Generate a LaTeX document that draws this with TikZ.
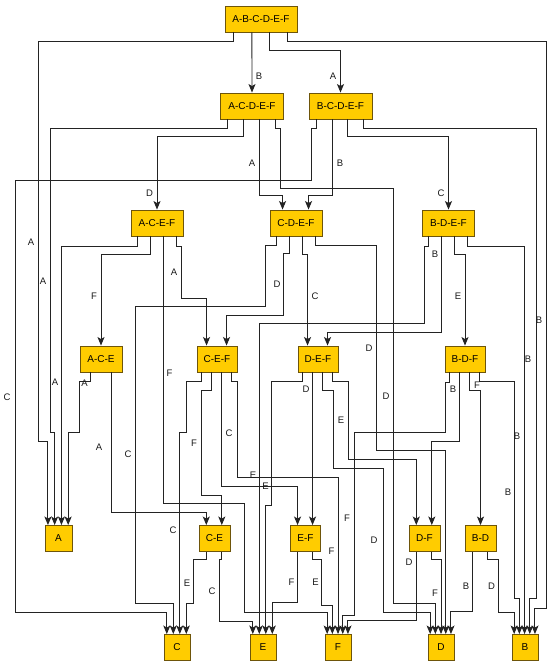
\documentclass[tikz,border=0pt]{standalone}
\usepackage{fontspec}
\setmainfont{Liberation Sans}
\usetikzlibrary{arrows.meta}
\definecolor{boxfill}{RGB}{255,204,0}
\definecolor{boxline}{RGB}{110,85,10}
\definecolor{edgecol}{RGB}{35,35,35}
\begin{document}
\begin{tikzpicture}[x=1pt,y=-1pt,
  bx/.style={draw=boxline,fill=boxfill,line width=0.9pt,minimum height=26pt,inner sep=0pt,font=\fontsize{10}{12}\selectfont},
  e/.style={draw=edgecol,line width=0.95pt,-{Stealth[length=8.5pt,width=7pt,inset=2pt]}},
  lb/.style={inner sep=0pt,font=\fontsize{9.5}{10}\selectfont,text=black!90}]
\fill[white] (0,0) rectangle (550,669);
\useasboundingbox (0,0) rectangle (550,669);
% nodes
\node[bx,minimum width=72pt] (abcdef) at (261,19) {A-B-C-D-E-F};
\node[bx,minimum width=63pt] (acdef) at (252,106) {A-C-D-E-F};
\node[bx,minimum width=63pt] (bcdef) at (340.5,106) {B-C-D-E-F};
\node[bx,minimum width=52pt] (acef) at (157,223) {A-C-E-F};
\node[bx,minimum width=52pt] (cdef) at (296,223) {C-D-E-F};
\node[bx,minimum width=52pt] (bdef) at (448.5,223) {B-D-E-F};
\node[bx,minimum width=42pt] (ace) at (101,359) {A-C-E};
\node[bx,minimum width=40pt] (cef) at (217,359) {C-E-F};
\node[bx,minimum width=40pt] (def) at (318,359) {D-E-F};
\node[bx,minimum width=40pt] (bdf) at (465,359) {B-D-F};
\node[bx,minimum width=27pt] (nA) at (58.5,538.5) {A};
\node[bx,minimum width=31pt] (ce) at (214.5,538.5) {C-E};
\node[bx,minimum width=30pt] (ef) at (305.5,538.5) {E-F};
\node[bx,minimum width=31pt] (df) at (424.5,538.5) {D-F};
\node[bx,minimum width=31pt] (bd) at (480.5,538.5) {B-D};
\node[bx,minimum width=26pt] (nC) at (177,647.5) {C};
\node[bx,minimum width=26pt] (nE) at (263,647.5) {E};
\node[bx,minimum width=26pt] (nF) at (338,647.5) {F};
\node[bx,minimum width=26pt] (nD) at (441,647.5) {D};
\node[bx,minimum width=26pt] (nB) at (525,647.5) {B};
% edges from A-B-C-D-E-F
\draw[e] ([xshift=9pt]abcdef.south west) |- (38,41) -- (38,441) -| ([xshift=3.4pt]nA.north west);
\draw[e] ([xshift=27.4pt]abcdef.south west) -- (acdef.north);
\draw[e] ([xshift=45pt]abcdef.south west) -- ++(0,18) -| (bcdef.north);
\draw[e] ([xshift=63pt]abcdef.south west) |- (546,41) -- (546,608) -| ([xshift=23.4pt]nB.north west);
% edges from A-C-D-E-F
\draw[e] ([xshift=7.9pt]acdef.south west) |- (50,128) -- (50,432) -| ([xshift=10.1pt]nA.north west);
\draw[e] ([xshift=23.6pt]acdef.south west) -- ++(0,17) -| (acef.north);
\draw[e] ([xshift=39.4pt]acdef.south west) -- ++(0,76) -| ([xshift=13pt]cdef.north west);
\draw[e] ([xshift=55.1pt]acdef.south west) -- ++(0,9) -| (280,188) -- (393,188) -- (393,603) -| ([xshift=7.8pt]nD.north west);
% edges from B-C-D-E-F
\draw[e] ([xshift=7.9pt]bcdef.south west) -- ++(0,9) -| (311,180) -- (15,180) -- (15,612) -| ([xshift=3.25pt]nC.north west);
\draw[e] ([xshift=23.6pt]bcdef.south west) -- ++(0,76) -| ([xshift=39pt]cdef.north west);
\draw[e] ([xshift=39.4pt]bcdef.south west) -- ++(0,17) -| (bdef.north);
\draw[e] ([xshift=55.1pt]bcdef.south west) -- ++(0,9) -| (536,598) -| ([xshift=18.2pt]nB.north west);
% edges from A-C-E-F
\draw[e] ([xshift=6.5pt]acef.south west) -- ++(0,10) -| ([xshift=16.9pt]nA.north west);
\draw[e] ([xshift=19.5pt]acef.south west) -- ++(0,18) -| (ace.north);
\draw[e] ([xshift=32.5pt]acef.south west) |- (244,503) -- (244,612) -| ([xshift=2.6pt]nF.north west);
\draw[e] ([xshift=45.5pt]acef.south west) -- ++(0,10) -| (181,298) -| ([xshift=10pt]cef.north west);
% edges from C-D-E-F
\draw[e] ([xshift=6.5pt]cdef.south west) -- ++(0,9) -| (265,306) -- (135,306) -- (135,603) -| ([xshift=9.75pt]nC.north west);
\draw[e] ([xshift=19.5pt]cdef.south west) -- ++(0,17) -| (283.3,315) -| ([xshift=30pt]cef.north west);
\draw[e] ([xshift=32.5pt]cdef.south west) -- ++(0,18) -| ([xshift=10pt]def.north west);
\draw[e] ([xshift=45.5pt]cdef.south west) -- ++(0,9) -| (376,450) -| ([xshift=18.2pt]nD.north west);
% edges from B-D-E-F
\draw[e] ([xshift=6.5pt]bdef.south west) -- ++(0,10) -| (424,323) -| ([xshift=9.75pt]nE.north west);
\draw[e] ([xshift=19.5pt]bdef.south west) -- ++(0,96) -| ([xshift=30pt]def.north west);
\draw[e] ([xshift=32.5pt]bdef.south west) -- ++(0,18) -| (bdf.north);
\draw[e] ([xshift=45.5pt]bdef.south west) -- ++(0,10) -| ([xshift=13pt]nB.north west);
% edges from A-C-E
\draw[e] ([xshift=10.5pt]ace.south west) -- ++(0,9) -| (79,432) -| ([xshift=23.6pt]nA.north west);
\draw[e] ([xshift=31.5pt]ace.south west) -- ++(0,140) -| ([xshift=7.75pt]ce.north west);
% edges from C-E-F
\draw[e] ([xshift=5pt]cef.south west) -- ++(0,9) -| (186,432) -| ([xshift=16.25pt]nC.north west);
\draw[e] ([xshift=15pt]cef.south west) -- ++(0,18) -| (201,495) -| ([xshift=23.25pt]ce.north west);
\draw[e] ([xshift=25pt]cef.south west) -- ++(0,114) -| ([xshift=7.5pt]ef.north west);
\draw[e] ([xshift=35pt]cef.south west) -- ++(0,9) -| (237,477) -| (nF.north);
% edges from D-E-F
\draw[e] ([xshift=5pt]def.south west) -- ++(0,9) -| (271,505) -| ([xshift=16.25pt]nE.north west);
\draw[e] ([xshift=15pt]def.south west) -- ([xshift=22.5pt]ef.north west);
\draw[e] ([xshift=25pt]def.south west) -- ++(0,18) -| (333,468) -| (383,612) -| ([xshift=2.6pt]nD.north west);
\draw[e] ([xshift=35pt]def.south west) -- ++(0,9) -| (348,459) -| ([xshift=7.75pt]df.north west);
% edges from B-D-F
\draw[e] ([xshift=5pt]bdf.south west) -- ++(0,10) -| (445,432) -| (354,615) -| ([xshift=18.2pt]nF.north west);
\draw[e] ([xshift=15pt]bdf.south west) -- ++(0,69) -| ([xshift=23.25pt]df.north west);
\draw[e] ([xshift=25pt]bdf.south west) -- ++(0,18) -| (bd.north);
\draw[e] ([xshift=35pt]bdf.south west) -- ++(0,9) -| (514,598) -| ([xshift=7.8pt]nB.north west);
% edges from pairs
\draw[e] ([xshift=7.75pt]ce.south west) -- ++(0,8) -| (193,603) -| ([xshift=22.75pt]nC.north west);
\draw[e] ([xshift=23.25pt]ce.south west) -- ++(0,8) -| (219,621) -| ([xshift=3.25pt]nE.north west);
\draw[e] ([xshift=7.5pt]ef.south west) -- ++(0,51) -| ([xshift=22.75pt]nE.north west);
\draw[e] ([xshift=22.5pt]ef.south west) -- ++(0,8) -| (321.7,605) -| ([xshift=7.8pt]nF.north west);
\draw[e] ([xshift=7.75pt]df.south west) -- ++(0,69) -| ([xshift=23.4pt]nF.north west);
\draw[e] ([xshift=23.25pt]df.south west) -- ++(0,8) -| (nD.north);
\draw[e] ([xshift=7.75pt]bd.south west) -- ++(0,60) -| ([xshift=23.4pt]nD.north west);
\draw[e] ([xshift=23.25pt]bd.south west) -- ++(0,8) -| (498,612) -| ([xshift=2.6pt]nB.north west);
% labels
\node[lb] (l1) at (31,242) {A};
\node[lb] (l2) at (259,76) {B};
\node[lb] (l3) at (333,76) {A};
\node[lb] (l4) at (539,320) {B};
\node[lb] (l5) at (43,281) {A};
\node[lb] (l6) at (149.5,193) {D};
\node[lb] (l7) at (252,163) {A};
\node[lb] (l8) at (386,396) {D};
\node[lb] (l9) at (7,397) {C};
\node[lb] (l10) at (340,163) {B};
\node[lb] (l11) at (441,193) {C};
\node[lb] (l12) at (528,359) {B};
\node[lb] (l13) at (55,382) {A};
\node[lb] (l14) at (94,296) {F};
\node[lb] (l15) at (169.5,373) {F};
\node[lb] (l16) at (174,272) {A};
\node[lb] (l17) at (128,454) {C};
\node[lb] (l18) at (277,284) {D};
\node[lb] (l19) at (315,296) {C};
\node[lb] (l20) at (369,348) {D};
\node[lb] (l21) at (253,475) {E};
\node[lb] (l22) at (435,254) {B};
\node[lb] (l23) at (458,296) {E};
\node[lb] (l24) at (517,436) {B};
\node[lb] (l25) at (84.5,383) {A};
\node[lb] (l26) at (99,447) {A};
\node[lb] (l27) at (173,530) {C};
\node[lb] (l28) at (194,443) {F};
\node[lb] (l29) at (229,433) {C};
\node[lb] (l30) at (331.5,551) {F};
\node[lb] (l31) at (265.5,486) {E};
\node[lb] (l32) at (306,389) {D};
\node[lb] (l33) at (374,540) {D};
\node[lb] (l34) at (341,420) {E};
\node[lb] (l35) at (347,518) {F};
\node[lb] (l36) at (453,389) {B};
\node[lb] (l37) at (477,385) {F};
\node[lb] (l38) at (508,492) {B};
\node[lb] (l39) at (187,583) {E};
\node[lb] (l40) at (212,591) {C};
\node[lb] (l41) at (291.5,582) {F};
\node[lb] (l42) at (315.5,582) {E};
\node[lb] (l43) at (409,562) {D};
\node[lb] (l44) at (435,593) {F};
\node[lb] (l45) at (466,586) {B};
\node[lb] (l46) at (491.5,586) {D};
\end{tikzpicture}
\end{document}
